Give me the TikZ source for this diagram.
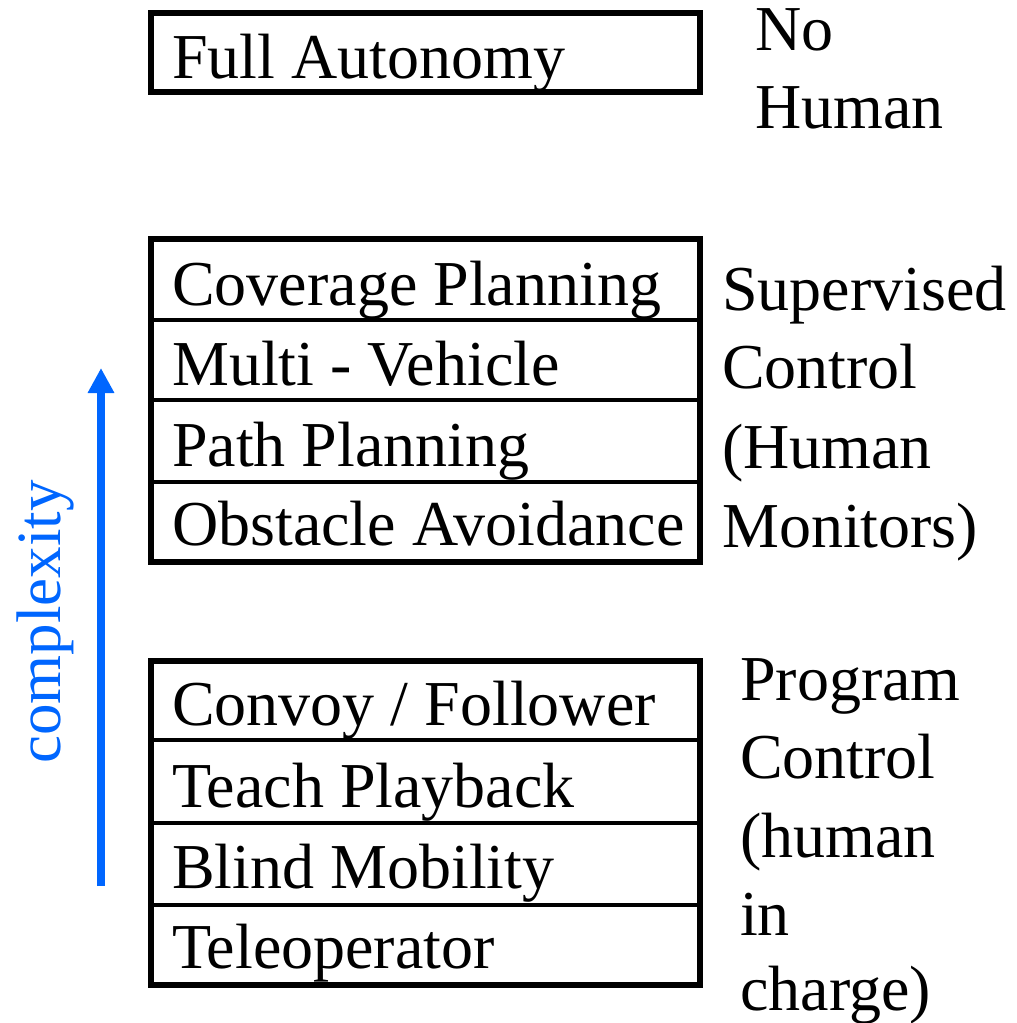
\documentclass[tikz,border=0pt]{standalone}
\usepackage{fontspec}
\setmainfont{Liberation Serif}
\usetikzlibrary{arrows.meta}
\definecolor{cxblue}{RGB}{0,102,255}
\begin{document}
\begin{tikzpicture}[x=1pt,y=-1pt,
  rowbox/.style={draw=black, line width=4.5pt, inner sep=0pt, outer sep=0pt, minimum width=549pt, anchor=north west},
  groupbox/.style={draw=black, line width=6pt, inner sep=0pt, outer sep=0pt, minimum width=549pt, anchor=north west},
  lbl/.style={anchor=base west, inner sep=0pt, font=\fontsize{64}{70}\selectfont},
  side/.style={anchor=base west, inner sep=0pt, font=\fontsize{64}{70}\selectfont}]
\useasboundingbox (0,0) rectangle (1017,1023);
% top box
\node[groupbox, minimum height=79pt] (fa) at (151,13) {};
\node[lbl] (tfa) at (172,78) {Full Autonomy};
% middle group
\node[rowbox, minimum height=81pt] (cp) at (151,239) {};
\node[rowbox, minimum height=80pt] (mv) at (151,320) {};
\node[rowbox, minimum height=82pt] (pp) at (151,400) {};
\node[rowbox, minimum height=80pt] (oa) at (151,482) {};
\node[groupbox, minimum height=323pt] (mid) at (151,239) {};
\node[lbl] (tcp) at (172,305) {Coverage Planning};
\node[lbl] (tmv) at (172,385) {Multi - Vehicle};
\node[lbl] (tpp) at (172,466) {Path Planning};
\node[lbl] (toa) at (172,545) {Obstacle Avoidance};
% bottom group
\node[rowbox, minimum height=79pt] (cf) at (151,661) {};
\node[rowbox, minimum height=83pt] (tp) at (151,740) {};
\node[rowbox, minimum height=82pt] (bm) at (151,823) {};
\node[rowbox, minimum height=80pt] (to) at (151,905) {};
\node[groupbox, minimum height=324pt] (bot) at (151,661) {};
\node[lbl] (tcf) at (172,725) {Convoy / Follower};
\node[lbl] (ttp) at (172,807) {Teach Playback};
\node[lbl] (tbm) at (172,888) {Blind Mobility};
\node[lbl] (tto) at (172,968) {Teleoperator};
% side labels
\node[side] (s1) at (755,50) {No};
\node[side] (s2) at (755,128) {Human};
\node[side] (s3) at (722,310) {Supervised};
\node[side] (s4) at (722,388) {Control};
\node[side] (s5) at (722,468) {(Human};
\node[side] (s6) at (722,547) {Monitors)};
\node[side] (s7) at (740,700) {Program};
\node[side] (s8) at (740,778) {Control};
\node[side] (s9) at (740,857) {(human};
\node[side] (s10) at (740,935) {in};
\node[side] (s11) at (740,1010) {charge)};
% complexity arrow
\coordinate (abot) at (101,886);
\coordinate (atop) at (101,368);
\draw[cxblue, line width=8pt, -{Triangle[length=25pt,width=25pt]}] (abot) -- (atop);
\node[rotate=90, text=cxblue, inner sep=0pt, font=\fontsize{63}{70}\selectfont] (cx) at (45,622) {complexity};
\end{tikzpicture}
\end{document}
